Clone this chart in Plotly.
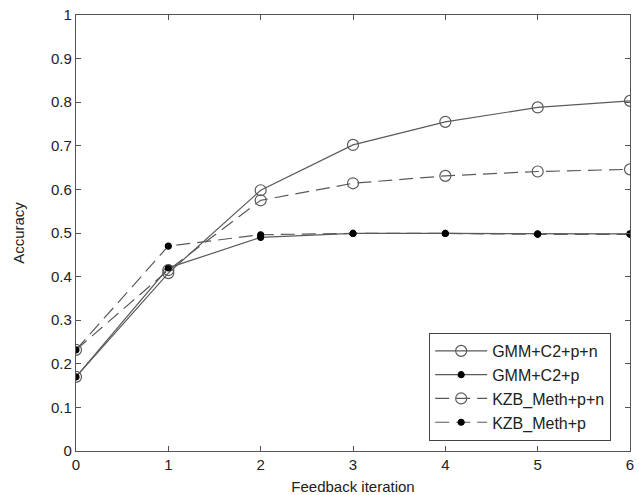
import plotly.graph_objects as go

iterations = [0, 1, 2, 3, 4, 5, 6]
gmm_pn = [0.170, 0.408, 0.598, 0.702, 0.755, 0.788, 0.803]
gmm_p = [0.170, 0.420, 0.490, 0.499, 0.499, 0.498, 0.498]
kzb_pn = [0.232, 0.415, 0.575, 0.614, 0.631, 0.641, 0.646]
kzb_p = [0.232, 0.470, 0.496, 0.499, 0.499, 0.497, 0.497]

y_ticks = [0, 0.1, 0.2, 0.3, 0.4, 0.5, 0.6, 0.7, 0.8, 0.9, 1]
y_labels = ["0", "0.1", "0.2", "0.3", "0.4", "0.5", "0.6", "0.7", "0.8", "0.9", "1"]
x_ticks = [0, 1, 2, 3, 4, 5, 6]

line_col = "#5a5a5a"
font = "Liberation Sans, Arial, sans-serif"

fig = go.Figure()
series = [
    ("GMM+C2+p+n", gmm_pn, "solid", "circle-open", 11, line_col),
    ("GMM+C2+p", gmm_p, "solid", "circle", 6, "#000000"),
    ("KZB_Meth+p+n", kzb_pn, "14px,7px", "circle-open", 11, line_col),
    ("KZB_Meth+p", kzb_p, "14px,7px", "circle", 6, "#000000"),
]
for name, vals, dash, sym, size, mcol in series:
    fig.add_trace(go.Scatter(
        x=iterations, y=vals, name=name, mode="lines+markers",
        line=dict(color=line_col, width=1.2, dash=dash),
        marker=dict(symbol=sym, size=size, color=mcol,
                    line=dict(color=mcol, width=1.2)),
    ))

axis_common = dict(
    showline=True, linecolor="#555555", linewidth=1.2, mirror="ticks",
    ticks="inside", ticklen=5, tickcolor="#555555", showgrid=False,
    zeroline=False, automargin=False, ticklabeloverflow="allow",
    tickfont=dict(size=15, color="#222222", family=font),
)
fig.update_xaxes(range=[0, 6], tickvals=x_ticks,
                 title=dict(text="Feedback iteration", standoff=10,
                            font=dict(size=15, color="#222222", family=font)),
                 **axis_common)
fig.update_yaxes(range=[0, 1], tickvals=y_ticks, ticktext=y_labels,
                 title=dict(text="Accuracy", standoff=22,
                            font=dict(size=15, color="#222222", family=font)),
                 **axis_common)

fig.update_layout(
    width=644, height=495,
    margin=dict(l=76, r=14, t=15, b=44),
    paper_bgcolor="white", plot_bgcolor="white",
    font=dict(family=font, color="#222222"),
    legend=dict(
        x=0.966, y=0.023, xanchor="right", yanchor="bottom",
        bordercolor="#444444", borderwidth=1, bgcolor="white",
        itemwidth=52,
        font=dict(size=16, family=font, color="#222222"),
    ),
)

# remove the default 8px page margin so the figure sits at the window's corner
fig.write_html("out.html", config={"displayModeBar": False},
               post_script="document.body.style.margin='0';")
